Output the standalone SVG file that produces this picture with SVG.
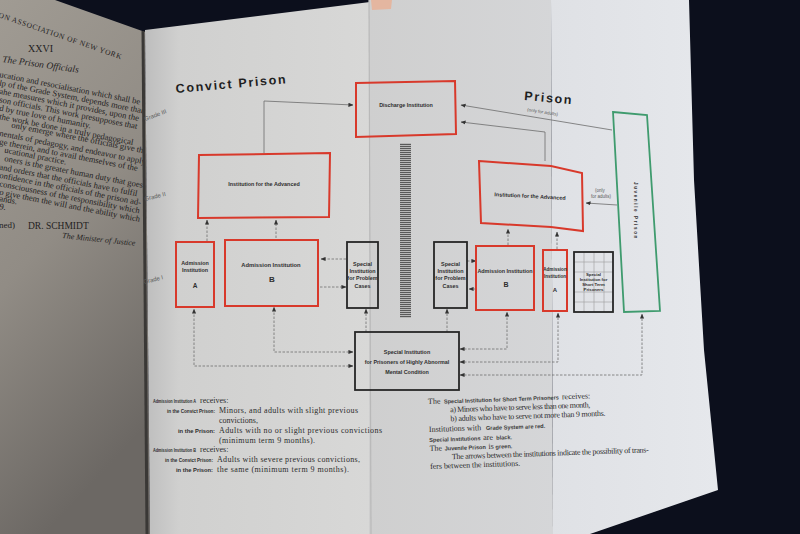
<svg xmlns="http://www.w3.org/2000/svg" width="800" height="534" viewBox="0 0 800 534">
<defs>
<style>
.bx{font-family:"Liberation Sans",Arial,sans-serif;font-weight:bold;font-size:5.4px;fill:#2e2e2e;text-anchor:middle}
.sf{font-family:"Liberation Serif","Times New Roman",serif;font-size:8px;fill:#2c2c2c}
.lp{font-family:"Liberation Serif","Times New Roman",serif;font-size:8.6px;fill:#24221f}
.sb{font-family:"Liberation Sans",Arial,sans-serif;font-weight:bold;font-size:5.6px}
.gr{font-family:"Liberation Sans",Arial,sans-serif;font-size:6px;fill:#5a5a5a}
.tt{font-family:"Liberation Sans",Arial,sans-serif;font-weight:bold;font-size:12.5px;fill:#1e1e1e;letter-spacing:1.7px}
.red{fill:none;stroke:#d8392b;stroke-width:2}
.blk{fill:none;stroke:#262626;stroke-width:1.8}
.grn{fill:none;stroke:#3f9b6e;stroke-width:1.8}
.cs{fill:none;stroke:#6c6c6c;stroke-width:0.8;marker-end:url(#ah)}
.cn{fill:none;stroke:#707070;stroke-width:0.8;stroke-dasharray:2.5 1.5;marker-end:url(#ah)}
.cb{marker-start:url(#ah)}
</style>
<marker id="ah" viewBox="0 0 6 6" refX="5.5" refY="3" markerWidth="5" markerHeight="5" markerUnits="userSpaceOnUse" orient="auto-start-reverse"><path d="M0,0.5 L6,3 L0,5.5 Z" fill="#333"/></marker>
<pattern id="hatch" width="4" height="2" patternUnits="userSpaceOnUse"><rect width="4" height="2" fill="#b8b8b8"/><rect width="4" height="1" fill="#5a5a5a"/></pattern>
<linearGradient id="lpg" x1="0" y1="0" x2="0.3" y2="1"><stop offset="0" stop-color="#a09b93"/><stop offset="0.5" stop-color="#918c85"/><stop offset="1" stop-color="#6c6864"/></linearGradient>
<linearGradient id="dpg" x1="0" y1="0" x2="1" y2="0"><stop offset="0" stop-color="#bdbdbd"/><stop offset="0.15" stop-color="#d0d0cf"/><stop offset="1" stop-color="#d8d8d7"/></linearGradient>
<linearGradient id="fog" x1="0" y1="0" x2="1" y2="0"><stop offset="0" stop-color="#cfcfcf"/><stop offset="1" stop-color="#d5d6d8"/></linearGradient>
<linearGradient id="frg" x1="0" y1="0" x2="1" y2="0"><stop offset="0" stop-color="#dfe1e5"/><stop offset="1" stop-color="#e6e8ec"/></linearGradient>
<clipPath id="lclip"><path d="M0,0 L55,0 L143,31 L147,534 L0,534 Z"/></clipPath>
</defs>

<rect width="800" height="534" fill="#0c0f1c"/>

<!-- left page -->
<path d="M0,0 L55,0 L145,32 L150,534 L0,534 Z" fill="url(#lpg)"/>
<g clip-path="url(#lclip)">
<text class="lp" style="font-size:7.5px;letter-spacing:0.6px" transform="translate(-2,17) rotate(19)">ON ASSOCIATION OF NEW YORK</text>
<text class="lp" x="28" y="52" style="font-size:10px">XXVI</text>
<text class="lp" style="font-size:9.5px;font-style:italic" transform="translate(2,62) rotate(8)">The Prison Officials</text>
<text class="lp" transform="translate(-1,77) rotate(11)">ucation and resocialisation which shall be</text>
<text class="lp" transform="translate(-1,85.4) rotate(11)">lp of the Grade System, depends more than</text>
<text class="lp" transform="translate(-1,93.8) rotate(11)">ahe measures which it provides, upon the</text>
<text class="lp" transform="translate(-1,102.2) rotate(11)">son officials. This work presupposes that</text>
<text class="lp" transform="translate(-1,110.6) rotate(11)">d by true love of humanity.</text>
<text class="lp" transform="translate(-1,119) rotate(11)">the work be done in a truly pedagogical</text>
<text class="lp" transform="translate(11,127.4) rotate(11)">only emerge where the officials give their</text>
<text class="lp" transform="translate(-1,135.8) rotate(11)">nentals of pedagogy, and endeavor to apply</text>
<text class="lp" transform="translate(-1,144.2) rotate(11)">ge therein, and to avail themselves of the</text>
<text class="lp" transform="translate(4,152.6) rotate(11)">ucational practice.</text>
<text class="lp" transform="translate(4,161) rotate(11)">oners is the greater human duty that goes</text>
<text class="lp" transform="translate(-1,169.4) rotate(11)">and orders that the officials have to fulfil</text>
<text class="lp" transform="translate(-1,177.8) rotate(11)">onfidence in the officials of the prison ad-</text>
<text class="lp" transform="translate(-1,186.2) rotate(11)">consciousness of the responsibility which</text>
<text class="lp" transform="translate(-1,194.6) rotate(11)">o give them the will and the ability which</text>
<text class="lp" transform="translate(-1,201) rotate(11)">ands.</text>
<text class="lp" transform="translate(-1,209) rotate(11)">9.</text>
<text class="lp" x="-1" y="228" style="font-size:9px">ned)</text>
<text class="lp" x="28" y="229" style="font-size:9.5px">DR. SCHMIDT</text>
<text class="lp" style="font-size:8px;font-style:italic" transform="translate(62,238) rotate(6)">The Minister of Justice</text>
</g>
<path d="M143,31 L147,534" stroke="#3a3836" stroke-width="3" fill="none"/>

<!-- diagram page, left part -->
<path d="M145,30 L370,2 L371,534 L150,534 Z" fill="url(#dpg)"/>
<!-- foldout -->
<path d="M369,0 L551,0 L553,534 L369,534 Z" fill="url(#fog)"/>
<path d="M551,0 L689,0 L694,180 L704,350 L718,490 L590,534 L553,534 Z" fill="url(#frg)"/>
<path d="M369,0 L371,534" stroke="#b9b9b9" stroke-width="1.2"/>
<path d="M371,0 L392,0 L391,9 L372,10 Z" fill="#e4b6a0"/>

<!-- titles and grade labels -->
<text class="tt" transform="translate(176,93) rotate(-5)">Convict Prison</text>
<text class="tt" transform="translate(524,100) rotate(5)">Prison</text>
<text class="gr" style="font-size:4.5px" transform="translate(527,111) rotate(9)">(only for adults)</text>
<text class="gr" transform="translate(145,121) rotate(-20)">Grade III</text>
<text class="gr" transform="translate(145,201) rotate(-14)">Grade II</text>
<text class="gr" transform="translate(144,284) rotate(-14)">Grade I</text>

<!-- connectors -->
<g id="connectors">
<path class="cs" d="M264,153 V101 L353,105"/>
<path class="cs" d="M545,161 V132 L461,122"/>
<path class="cs" d="M612,130 L461,105"/>
<path class="cn" d="M207,241 V220"/>
<path class="cn" d="M276,238 V220"/>
<path class="cn" d="M508,245 V229"/>
<path class="cn" d="M557,249 V232"/>
<path class="cs" d="M617,205 L586,203"/>
<path class="cn" d="M346,259 H321"/>
<path class="cn" d="M320,287 H346"/>
<path class="cn" d="M467,261 H476"/>
<path class="cn" d="M476,289 H469"/>
<path class="cn cb" d="M353,366 H194 V309"/>
<path class="cn cb" d="M353,352 H274 V307"/>
<path class="cn" d="M366,332 V309"/>
<path class="cn" d="M447,332 V309"/>
<path class="cn cb" d="M460,349 H507 V312"/>
<path class="cn cb" d="M460,362 H558 V313"/>
<path class="cn cb" d="M460,375 H642 V314"/>
</g>
<text class="gr" style="font-size:4.5px;text-anchor:middle" x="600" y="192">(only</text>
<text class="gr" style="font-size:4.5px;text-anchor:middle" x="601" y="198">for adults)</text>

<!-- nodes -->
<g id="discharge">
<path class="red" d="M356,83 L455,81 L456,134 L356,137 Z"/>
<text class="bx" x="406" y="107">Discharge Institution</text>
</g>
<g id="advanced-convict">
<path class="red" d="M199,155 L330,153 L329,217 L198,218 Z"/>
<text class="bx" x="264" y="186">Institution for the Advanced</text>
</g>
<g id="hatched-bar">
<rect x="400" y="143" width="11" height="175" fill="url(#hatch)"/>
</g>
<g id="admission-a-convict">
<rect class="red" x="176" y="242" width="38" height="65"/>
<text class="bx" x="195" y="265">Admission</text>
<text class="bx" x="195" y="272">Institution</text>
<text class="bx" x="195" y="288" style="font-size:6.5px">A</text>
</g>
<g id="admission-b-convict">
<rect class="red" x="225" y="240" width="93" height="66"/>
<text class="bx" x="271" y="267" style="font-size:5.8px">Admission Institution</text>
<text class="bx" x="272" y="282" style="font-size:8px">B</text>
</g>
<g id="special-problem-convict">
<rect class="blk" x="347" y="242" width="31" height="66"/>
<text class="bx" x="362.5" y="266">Special</text>
<text class="bx" x="362.5" y="273">Institution</text>
<text class="bx" x="362.5" y="280">for Problem</text>
<text class="bx" x="362.5" y="288">Cases</text>
</g>
<g id="special-problem-prison">
<rect class="blk" x="434" y="242" width="33" height="66"/>
<text class="bx" x="450.5" y="266">Special</text>
<text class="bx" x="450.5" y="273">Institution</text>
<text class="bx" x="450.5" y="280">for Problem</text>
<text class="bx" x="450.5" y="288">Cases</text>
</g>
<g id="advanced-prison">
<path class="red" d="M479,161 L551,166 L582,173 L583,231 L551,227 L481,223 Z"/>
<text class="bx" transform="translate(530,198) rotate(3)">Institution for the Advanced</text>
</g>
<g id="admission-b-prison">
<rect class="red" x="476" y="246" width="58" height="64"/>
<text class="bx" x="505" y="273">Admission Institution</text>
<text class="bx" x="506" y="287" style="font-size:7px">B</text>
</g>
<g id="admission-a-prison">
<rect class="red" x="543" y="250" width="24" height="61"/>
<text class="bx" x="555" y="271" style="font-size:4.6px">Admission</text>
<text class="bx" x="555" y="278" style="font-size:4.6px">Institution</text>
<text class="bx" x="555" y="292" style="font-size:6px">A</text>
</g>
<g id="short-term">
<g stroke="#9a9a9a" stroke-width="0.6">
<path d="M584,252 V312 M594,252 V312 M604,252 V312 M574,262 H613 M574,272 H613 M574,292 H613 M574,302 H613"/>
</g>
<rect class="blk" x="574" y="252" width="39" height="60"/>
<text class="bx" x="593.5" y="276" style="font-size:4.3px">Special</text>
<text class="bx" x="593.5" y="281" style="font-size:4.3px">Institution for</text>
<text class="bx" x="593.5" y="286" style="font-size:4.3px">Short  Term</text>
<text class="bx" x="593.5" y="291" style="font-size:4.3px">Prisoners</text>
</g>
<g id="juvenile">
<path class="grn" d="M613,112 L647,115 L660,311 L624,312 Z"/>
<text class="bx" style="font-size:4.6px;letter-spacing:1.6px;text-anchor:start" transform="translate(634,182) rotate(90)">Juvenile Prison</text>
</g>
<g id="mental">
<rect class="blk" x="355" y="332" width="104" height="58"/>
<text class="bx" x="407" y="354">Special Institution</text>
<text class="bx" x="407" y="364">for Prisoners of Highly Abnormal</text>
<text class="bx" x="407" y="374">Mental Condition</text>
</g>

<!-- legend text left -->
<g fill="#2c2c2c">
<text class="sb" x="153" y="403" textLength="43" lengthAdjust="spacingAndGlyphs">Admission Institution A</text>
<text class="sf" x="200" y="403">receives:</text>
<text class="sb" x="215" y="413" style="text-anchor:end" textLength="48" lengthAdjust="spacingAndGlyphs">in the Convict Prison:</text>
<text class="sf" x="219" y="413" textLength="139">Minors, and adults with slight previous</text>
<text class="sf" x="219" y="423">convictions,</text>
<text class="sb" x="215" y="433" style="text-anchor:end" textLength="37" lengthAdjust="spacingAndGlyphs">in the Prison:</text>
<text class="sf" x="219" y="433" textLength="163">Adults with no or slight previous convictions</text>
<text class="sf" x="219" y="443" textLength="96">(minimum term 9 months).</text>
<text class="sb" x="153" y="452" textLength="43" lengthAdjust="spacingAndGlyphs">Admission Institution B</text>
<text class="sf" x="200" y="452">receives:</text>
<text class="sb" x="213" y="462" style="text-anchor:end" textLength="48" lengthAdjust="spacingAndGlyphs">in the Convict Prison:</text>
<text class="sf" x="217" y="462" textLength="143">Adults with severe previous convictions,</text>
<text class="sb" x="213" y="472" style="text-anchor:end" textLength="37" lengthAdjust="spacingAndGlyphs">in the Prison:</text>
<text class="sf" x="217" y="472" textLength="132">the same (minimum term 9 months).</text>
</g>

<!-- legend text right -->
<g transform="rotate(-2,428,404)" fill="#3a3a3a">
<text class="sf" x="428" y="404">The</text>
<text class="sb" x="444" y="404" textLength="115" lengthAdjust="spacingAndGlyphs">Special Institution for Short Term Prisoners</text>
<text class="sf" x="562" y="404">receives:</text>
<text class="sf" x="450" y="413" textLength="140">a) Minors who have to serve less than one month,</text>
<text class="sf" x="450" y="422" textLength="155">b) adults who have to serve not more than 9 months.</text>
<text class="sf" x="428" y="432">Institutions with</text>
<text class="sb" x="485" y="432">Grade System are red.</text>
<text class="sb" x="428" y="442">Special Institutions</text>
<text class="sf" x="482" y="442">are</text>
<text class="sb" x="495" y="442">black.</text>
<text class="sf" x="428" y="451">The</text>
<text class="sb" x="443" y="451">Juvenile Prison</text>
<text class="sf" x="487" y="451">is</text>
<text class="sb" x="494" y="451">green.</text>
<text class="sf" x="450" y="460" textLength="197">The arrows between the institutions indicate the possibility of trans-</text>
<text class="sf" x="428" y="469" textLength="90">fers between the institutions.</text>
</g>
</svg>
